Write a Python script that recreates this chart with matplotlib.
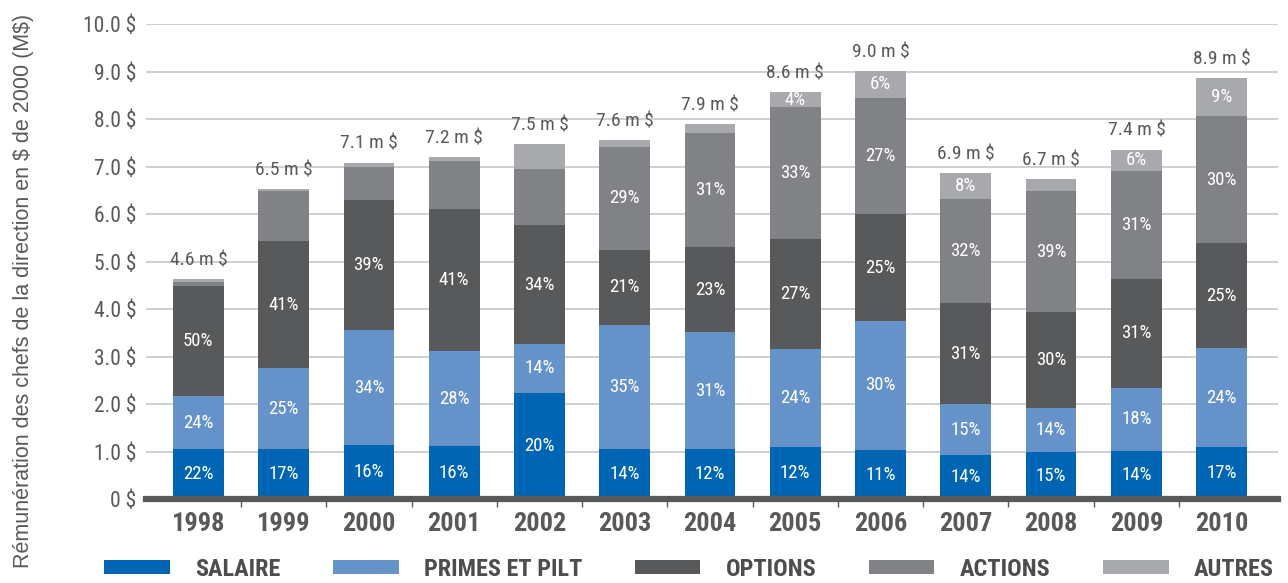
import matplotlib
matplotlib.use("Agg")
import matplotlib.pyplot as plt
import numpy as np
from matplotlib import font_manager
from matplotlib.patches import Patch

# CEO compensation, constant 2000 dollars (M$), by component
YEARS = ["1998", "1999", "2000", "2001", "2002", "2003", "2004",
         "2005", "2006", "2007", "2008", "2009", "2010"]
SERIES = ["SALAIRE", "PRIMES ET PILT", "OPTIONS", "ACTIONS", "AUTRES"]

SALAIRE = [1.06, 1.06, 1.14, 1.12, 2.24, 1.05, 1.05, 1.10, 1.04, 0.93, 0.99, 1.02, 1.10]
PRIMES = [1.11, 1.70, 2.42, 2.00, 1.03, 2.62, 2.47, 2.06, 2.71, 1.07, 0.93, 1.32, 2.08]
OPTIONS = [2.31, 2.68, 2.74, 2.99, 2.50, 1.58, 1.79, 2.32, 2.25, 2.13, 2.02, 2.30, 2.21]
ACTIONS = [0.09, 1.06, 0.70, 1.01, 1.18, 2.17, 2.40, 2.78, 2.45, 2.19, 2.55, 2.28, 2.67]
AUTRES = [0.06, 0.03, 0.09, 0.09, 0.53, 0.14, 0.19, 0.31, 0.57, 0.55, 0.25, 0.44, 0.80]

# published share of each component (%), None = segment left unlabelled
PCT_SALAIRE = [22, 17, 16, 16, 20, 14, 12, 12, 11, 14, 15, 14, 17]
PCT_PRIMES = [24, 25, 34, 28, 14, 35, 31, 24, 30, 15, 14, 18, 24]
PCT_OPTIONS = [50, 41, 39, 41, 34, 21, 23, 27, 25, 31, 30, 31, 25]
PCT_ACTIONS = [None, None, None, None, None, 29, 31, 33, 27, 32, 39, 31, 30]
PCT_AUTRES = [None, None, None, None, None, None, None, 4, 6, 8, None, 6, 9]

COLORS = ["#0066b3", "#6592c9", "#58595b", "#808285", "#a7a9ac"]
TEXT = "#58595b"

# narrow face for the numbers, closest thing to a condensed Helvetica
available = {f.name for f in font_manager.fontManager.ttflist}
NARROW = next((n for n in ["Liberation Sans Narrow", "Roboto Condensed",
                           "Open Sans Condensed", "DejaVu Sans"]
               if n in available), "DejaVu Sans")
nfont = dict(family=NARROW, stretch="condensed")

values = np.array([SALAIRE, PRIMES, OPTIONS, ACTIONS, AUTRES])
labels = [PCT_SALAIRE, PCT_PRIMES, PCT_OPTIONS, PCT_ACTIONS, PCT_AUTRES]
totals = values.sum(axis=0)
x = np.arange(len(YEARS))

fig = plt.figure(figsize=(12.88, 5.83), dpi=100)
ax = fig.add_axes([0.1134, 0.1437, 0.8788, 0.8146])

bottom = np.zeros(len(YEARS))
for vals, pcts, color, name in zip(values, labels, COLORS, SERIES):
    ax.bar(x, vals, 0.595, bottom=bottom, color=color, linewidth=0,
           label=name, zorder=2)
    for xi, b, v, p in zip(x, bottom, vals, pcts):
        if p is not None:
            ax.text(xi, b + v / 2, f"{p}%", ha="center", va="center",
                    color="white", fontsize=13.5, **nfont, zorder=4)
    bottom += vals

for xi, t in zip(x, totals):
    ax.annotate(f"{t:.1f} m $", (xi, t), xytext=(0, 7),
                textcoords="offset points", ha="center", va="bottom",
                color=TEXT, fontsize=14, **nfont)

ax.set_xlim(-0.613, 12.66)
ax.set_ylim(0, 10)
yt = np.arange(0, 11)
ax.set_yticks(yt)
ax.set_yticklabels(["0 $"] + [f"{v:.1f} $" for v in yt[1:]],
                   fontsize=15.5, color=TEXT, **nfont)
ax.tick_params(axis="y", length=0, pad=7)
ax.grid(axis="y", color="#cccccc", linewidth=1.3, zorder=0)
ax.set_axisbelow(True)

ax.set_xticks(x)
ax.set_xticklabels(YEARS, fontsize=19, fontweight="bold", color=TEXT, **nfont)
ax.set_xticks(x[:-1] + 0.5, minor=True)
ax.tick_params(axis="x", which="major", length=0, pad=9)
ax.tick_params(axis="x", which="minor", length=5.5, width=1, color=TEXT)

for side in ("top", "right", "left"):
    ax.spines[side].set_visible(False)
ax.spines["bottom"].set_color(TEXT)
ax.spines["bottom"].set_linewidth(4.5)
ax.spines["bottom"].set_zorder(3)

fig.text(24 / 1288, 1 - 291 / 583,
         "Rémunération des chefs de la direction en \\$ de 2000 (M\\$)",
         rotation=90, ha="center", va="center", fontsize=15.5, color=TEXT,
         family="Liberation Sans")

handles = [Patch(facecolor=c, edgecolor="none") for c in COLORS]
fig.legend(handles, SERIES, ncol=5, loc="center",
           bbox_to_anchor=(0.535, 0.024), frameon=False,
           prop=font_manager.FontProperties(family=NARROW, stretch="condensed",
                                            weight="bold", size=17.5),
           labelcolor="#4d4d4f", handlelength=2.7, handleheight=0.55,
           handletextpad=1.05, columnspacing=2.15)

fig.savefig("out.png", dpi=100)
